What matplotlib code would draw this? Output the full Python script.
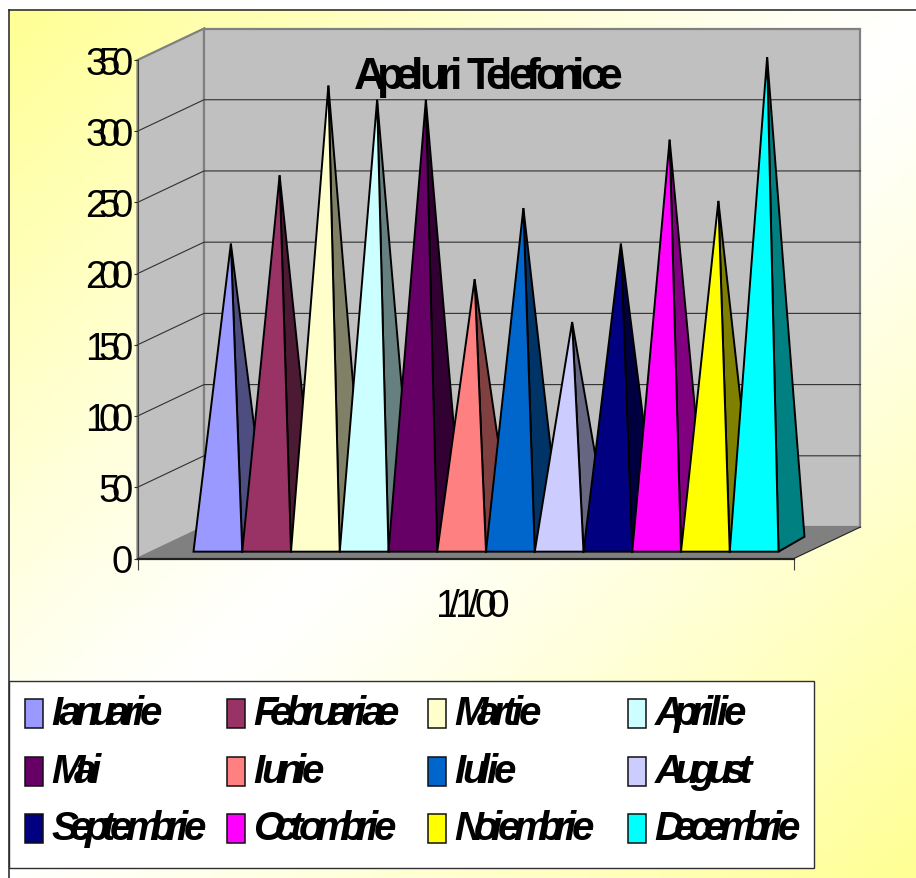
"""Apeluri Telefonice: 3D-style pyramid chart, drawn with an oblique projection."""

import types

import numpy as np
import matplotlib
matplotlib.use('Agg')
import matplotlib.pyplot as plt
from matplotlib.patches import Polygon, Rectangle
from matplotlib.text import Text
from matplotlib.transforms import Bbox, IdentityTransform

W, H = 916, 879

MONTHS = ['Ianuarie', 'Februariae', 'Martie', 'Aprilie', 'Mai', 'Iunie', 'Iulie',
          'August', 'Septembrie', 'Octombrie', 'Noiembrie', 'Decembrie']
CALLS = [211, 259, 322, 312, 312, 186, 236, 156, 211, 284, 241, 342]
COLORS = ['#9999FF', '#993366', '#FFFFCC', '#CCFFFF', '#660066', '#FF8080',
          '#0066CC', '#CCCCFF', '#000080', '#FF00FF', '#FFFF00', '#00FFFF']
SIDE_COLORS = ['#4D4D80', '#4D1A33', '#808066', '#668080', '#330033', '#804040',
               '#003366', '#666680', '#000040', '#800080', '#808000', '#008080']
Y_TICKS = [0, 50, 100, 150, 200, 250, 300, 350]
TITLE = 'Apeluri Telefonice'
X_LABEL = '1/1/00'

plt.rcParams['font.family'] = ['Liberation Sans', 'DejaVu Sans']

# depth of the chart box and of a pyramid base, in data units
BOX_DX, BOX_DY = 1.364, 22.1
PYR_DX, PYR_DY = 0.533, 10.5
PYR_LIFT = 4.8


def squeeze(txt, factor):
    # the reference has overlapping letters, matplotlib has no letter spacing:
    # keep one Text object but draw its glyphs closer together
    def draw(self, renderer):
        if not self.get_visible() or not self.get_text():
            return
        s = self.get_text()
        fp = self.get_fontproperties()
        em = fp.get_size_in_points() * self.figure.dpi / 72

        def width(part):
            return renderer.get_text_width_height_descent(part, fp, False)[0] if part else 0

        offsets = [factor * width(s[:k]) for k in range(len(s))]
        total = offsets[-1] + width(s[-1])
        x, y = self.get_transform().transform(self.get_unitless_position())
        ha = self.get_ha()
        if ha == 'right':
            x -= total
        elif ha == 'center':
            x -= total / 2
        if self.get_va() in ('center', 'center_baseline'):
            y -= 0.358 * em
        for ch, off in zip(s, offsets):
            glyph = Text(x + off, y, ch, fontproperties=fp, color=self.get_color(),
                         ha='left', va='baseline', transform=IdentityTransform())
            glyph.set_figure(self.figure)
            glyph.draw(renderer)

    def get_window_extent(self, renderer=None, dpi=None):
        box = Text.get_window_extent(self, renderer, dpi)
        w = box.width * factor
        ha = self.get_ha()
        if ha == 'right':
            x0 = box.x1 - w
        elif ha == 'center':
            x0 = box.x0 + (box.width - w) / 2
        else:
            x0 = box.x0
        return Bbox.from_extents(x0, box.y0, x0 + w, box.y1)

    txt.draw = types.MethodType(draw, txt)
    txt.get_window_extent = types.MethodType(get_window_extent, txt)


def px_axes(fig, x0, y0, x1, y1):
    # axes from pixel box, y counted from the top
    return fig.add_axes([x0 / W, 1 - y1 / H, (x1 - x0) / W, (y1 - y0) / H])


def draw_background(fig):
    bg = px_axes(fig, 9, 11, W, H)
    yy, xx = np.mgrid[0:1:200j, 0:1:200j]
    t = np.abs((xx * 0.95 + yy) / 1.95 - 0.5) * 2
    img = np.ones((200, 200, 3))
    img[..., 2] = 1 - 0.42 * t ** 1.15
    bg.imshow(img, extent=[0, 1, 0, 1], origin='upper', aspect='auto')
    bg.set_xticks([])
    bg.set_yticks([])
    for side in ('right', 'bottom'):
        bg.spines[side].set_visible(False)
    for side in ('left', 'top'):
        bg.spines[side].set_linewidth(1.1)
        bg.spines[side].set_color('#202020')
    bg.set_zorder(0)


def draw_box(ax, x0, x1, y_top):
    bx, by = BOX_DX, BOX_DY
    wall = dict(facecolor='#C0C0C0', edgecolor='#808080', linewidth=1.6,
                clip_on=False, joinstyle='miter', zorder=1)
    ax.add_patch(Polygon([(x0, 0), (x0 + bx, by), (x0 + bx, y_top + by), (x0, y_top)], **wall))
    ax.add_patch(Polygon([(x0 + bx, by), (x1 + bx, by), (x1 + bx, y_top + by), (x0 + bx, y_top + by)], **wall))
    ax.add_patch(Polygon([(x0, 0), (x1, 0), (x1 + bx, by), (x0 + bx, by)],
                         facecolor='#808080', edgecolor='none', clip_on=False, zorder=1))
    ax.plot([x1, x1 + bx], [0, by], color='#202020', lw=0.8, clip_on=False, zorder=2)
    for v in Y_TICKS[1:-1]:
        ax.plot([x0, x0 + bx, x1 + bx], [v, v + by, v + by], color='#303030',
                lw=0.8, clip_on=False, zorder=2)


def draw_pyramids(ax):
    for i, (val, face, side) in enumerate(zip(CALLS, COLORS, SIDE_COLORS)):
        apex = (i + 0.5 + PYR_DX / 2, PYR_LIFT + PYR_DY / 2 + val)
        style = dict(edgecolor='black', linewidth=1.4, joinstyle='miter',
                     clip_on=False, zorder=3 + i * 0.01)
        ax.add_patch(Polygon([(i + 1, PYR_LIFT), (i + 1 + PYR_DX, PYR_LIFT + PYR_DY), apex],
                             facecolor=side, **style))
        ax.add_patch(Polygon([(i, PYR_LIFT), (i + 1, PYR_LIFT), apex],
                             facecolor=face, **style))


def draw_legend(fig):
    # hand placed: columns in the reference do not follow the label widths
    lg = fig.add_axes([0, 0, 1, 1])
    lg.set_xlim(0, W)
    lg.set_ylim(H, 0)
    lg.axis('off')
    lg.set_zorder(3)
    lg.add_patch(Rectangle((9, 682), 805, 187, facecolor='white', edgecolor='#303030', linewidth=1.0))
    col_x = [24.5, 226.5, 427.5, 627.5]
    row_y = [700, 757.5, 815]
    for k, (name, color) in enumerate(zip(MONTHS, COLORS)):
        x, y = col_x[k % 4], row_y[k // 4]
        lg.add_patch(Rectangle((x, y), 18, 29, facecolor=color, edgecolor='#101010', linewidth=1.1))
        t = lg.text(x + 27, y + 25.5, name, fontsize=29, style='italic', fontweight='bold',
                    ha='left', va='baseline')
        squeeze(t, 0.672)


def main():
    fig = plt.figure(figsize=(W / 100, H / 100), dpi=100, facecolor='white')
    draw_background(fig)

    ax = px_axes(fig, 137.5, 61, 794, 559.5)
    ax.patch.set_visible(False)
    ax.set_zorder(1)
    x0, x1 = -56 / 48.75, (794 - 193.5) / 48.75
    ax.set_xlim(x0, x1)
    ax.set_ylim(0, 350)

    draw_box(ax, x0, x1, 350)
    draw_pyramids(ax)

    ax.set_yticks(Y_TICKS)
    ax.tick_params(axis='y', labelsize=27.5, length=3.2, width=0.8, pad=0, color='#303030')
    ax.set_xticks([x0, x1], ['', ''])
    ax.tick_params(axis='x', length=8, width=0.8, color='#404040')
    for side in ('top', 'right'):
        ax.spines[side].set_visible(False)
    ax.spines['left'].set_color('#404040')
    ax.spines['left'].set_linewidth(0.8)
    ax.spines['left'].set_zorder(2.5)
    ax.spines['bottom'].set_color('#202020')
    ax.spines['bottom'].set_linewidth(1.6)

    fig.canvas.draw()
    for lab in ax.get_yticklabels():
        squeeze(lab, 0.62)

    ax.set_xlabel(X_LABEL, fontsize=28, labelpad=30, x=0.51, va='baseline')
    squeeze(ax.xaxis.label, 0.6)
    ax.set_title(TITLE, fontsize=32, fontweight='bold', x=0.534, y=0.9265, va='baseline')
    squeeze(ax.title, 0.68)

    draw_legend(fig)
    fig.savefig('out.png', dpi=100)
    plt.close(fig)


if __name__ == '__main__':
    main()
